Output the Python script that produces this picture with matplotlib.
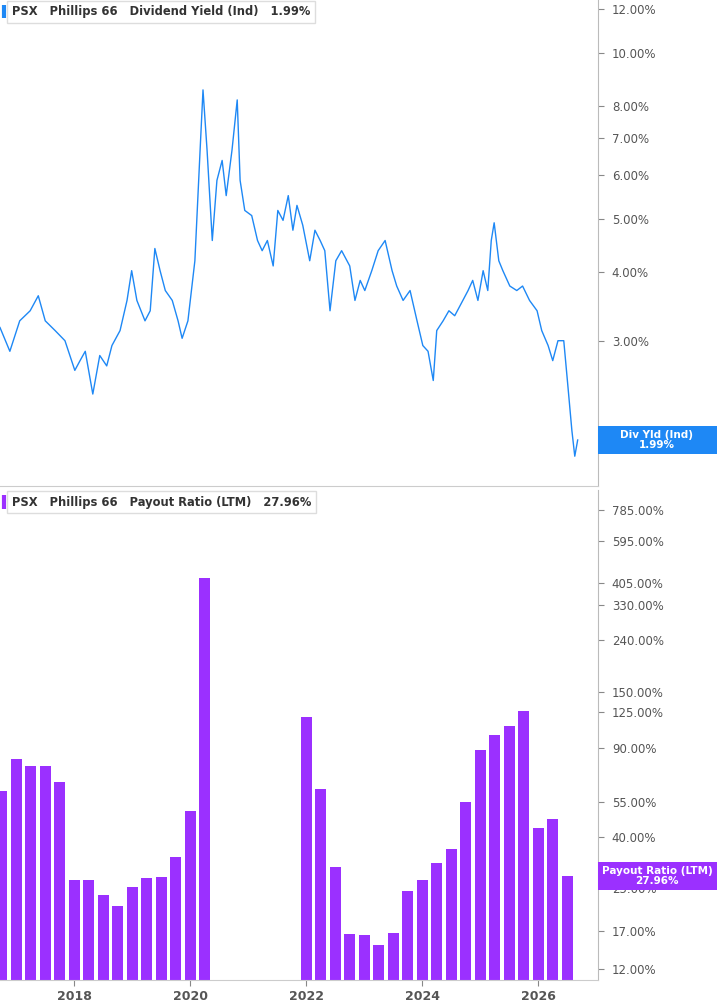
import matplotlib
matplotlib.use("Agg")
import matplotlib.pyplot as plt
from matplotlib.ticker import FixedLocator, NullLocator, NullFormatter
from matplotlib.transforms import blended_transform_factory
import numpy as np

# ---- data ----
yield_years = [2016.72,2016.89,2017.06,2017.24,2017.38,2017.50,2017.67,2017.84,2018.01,2018.10,2018.19,2018.32,2018.44,2018.56,2018.65,2018.79,2018.91,2018.99,2019.08,2019.22,2019.31,2019.39,2019.48,2019.57,2019.69,2019.79,2019.86,2019.96,2020.08,2020.17,2020.22,2020.29,2020.38,2020.46,2020.55,2020.62,2020.72,2020.81,2020.86,2020.94,2021.06,2021.16,2021.24,2021.33,2021.43,2021.51,2021.60,2021.69,2021.77,2021.84,2021.94,2022.06,2022.15,2022.24,2022.32,2022.41,2022.51,2022.61,2022.75,2022.84,2022.93,2023.01,2023.13,2023.24,2023.36,2023.48,2023.56,2023.67,2023.79,2023.91,2024.01,2024.10,2024.19,2024.25,2024.36,2024.46,2024.56,2024.70,2024.79,2024.87,2024.96,2025.05,2025.13,2025.19,2025.24,2025.32,2025.39,2025.51,2025.63,2025.73,2025.85,2025.98,2026.06,2026.17,2026.25,2026.34,2026.44,2026.51,2026.58,2026.63,2026.68]
yield_vals = [3.18,2.88,3.27,3.41,3.63,3.27,3.14,3.01,2.66,2.77,2.88,2.41,2.83,2.71,2.95,3.14,3.56,4.03,3.56,3.27,3.41,4.42,4.03,3.71,3.56,3.27,3.04,3.27,4.20,6.66,8.56,6.66,4.57,5.87,6.38,5.51,6.66,8.21,5.87,5.18,5.07,4.57,4.38,4.57,4.11,5.18,4.97,5.51,4.77,5.29,4.87,4.20,4.77,4.57,4.38,3.41,4.20,4.38,4.11,3.56,3.87,3.71,4.03,4.38,4.57,4.03,3.78,3.56,3.71,3.27,2.95,2.88,2.55,3.14,3.27,3.41,3.34,3.56,3.71,3.87,3.56,4.03,3.71,4.57,4.92,4.20,4.03,3.78,3.71,3.78,3.56,3.41,3.14,2.95,2.77,3.01,3.01,2.50,2.07,1.86,1.99]

q1 = [2016.75 + 0.25*i for i in range(15)]
q2 = [2022.0 + 0.25*i for i in range(19)]
payout_dates = q1 + q2
payout_vals = [60.7,81,76,76,66,27,27,23.5,21.3,25.3,27.5,27.7,33.3,50.6,422,
               119,61.8,30.4,16.5,16.3,14.9,16.7,24.4,27,31.5,35.8,55,88,101,110,126,43.3,47,27.96]

top_ticks = [2,3,4,5,6,7,8,10,12]
bot_ticks = [12,17,25,40,55,90,125,150,240,330,405,595,785]
year_ticks = [2018,2020,2022,2024,2026]

BLUE = "#1e88f5"
PURPLE = "#9b30ff"
GRAY = "#555555"

fig = plt.figure(figsize=(7.17,10.05), dpi=100)
XL = (2016.72, 2027.03)

ax1 = fig.add_axes([0.0, 0.516, 0.834, 0.484])
ax2 = fig.add_axes([0.0, 0.025, 0.834, 0.487])

ax1.plot(yield_years, yield_vals, color=BLUE, lw=1.0)
ax1.set_yscale("log")
ax1.set_ylim(1.64, 12.45)
ax2.bar(payout_dates, payout_vals, width=0.19, color=PURPLE, align="center")
ax2.set_yscale("log")
ax2.set_ylim(10.85, 942)

for ax, ticks in ((ax1, top_ticks), (ax2, bot_ticks)):
    ax.set_xlim(*XL)
    ax.yaxis.tick_right()
    ax.yaxis.set_major_locator(FixedLocator(ticks))
    ax.yaxis.set_minor_locator(NullLocator())
    ax.yaxis.set_minor_formatter(NullFormatter())
    ax.set_yticklabels([f"{t:.2f}%" for t in ticks])
    ax.tick_params(axis="y", length=4, colors="#888888", labelcolor=GRAY, labelsize=8.5, pad=6)
    for s in ("top", "left"):
        ax.spines[s].set_visible(False)
    ax.spines["right"].set_color("#bbbbbb")
    ax.spines["bottom"].set_color("#cccccc")

ax1.set_xticks([])
ax2.set_xticks(year_ticks)
ax2.set_xticklabels([str(y) for y in year_ticks])
ax2.tick_params(axis="x", length=4, colors="#888888", labelcolor=GRAY, labelsize=9)
for l in ax2.get_xticklabels():
    l.set_fontweight("bold")

def legend(ax, txt, col):
    ax.text(0.02, 0.976, txt, transform=ax.transAxes, fontsize=8.3, fontweight="bold",
            color="#333333", va="center", ha="left",
            bbox=dict(boxstyle="square,pad=0.4", fc="white", ec="#dddddd"))
    ax.plot([0.006, 0.006], [0.962, 0.99], transform=ax.transAxes, color=col, lw=3,
            solid_capstyle="butt", clip_on=False)

legend(ax1, "PSX   Phillips 66   Dividend Yield (Ind)   1.99%", BLUE)
legend(ax2, "PSX   Phillips 66   Payout Ratio (LTM)   27.96%", PURPLE)

def tag(ax, y, txt, col):
    tr = blended_transform_factory(fig.transFigure, ax.transData)
    ya = ax.transData.transform((0, y))[1]
    y0 = ax.transData.inverted().transform((0, ya - 14))[1]
    y1 = ax.transData.inverted().transform((0, ya + 14))[1]
    ax.add_patch(plt.Rectangle((598/717, y0), 119/717, y1 - y0, transform=tr,
                               fc=col, ec="none", zorder=9, clip_on=False))
    ax.text(657/717, y, txt, transform=tr, color="white", fontsize=7.5,
            fontweight="bold", ha="center", va="center", linespacing=1.1,
            zorder=10, clip_on=False)

tag(ax1, 1.99, "Div Yld (Ind)\n1.99%", BLUE)
tag(ax2, 27.96, "Payout Ratio (LTM)\n27.96%", PURPLE)

fig.savefig("out.png", dpi=100)
